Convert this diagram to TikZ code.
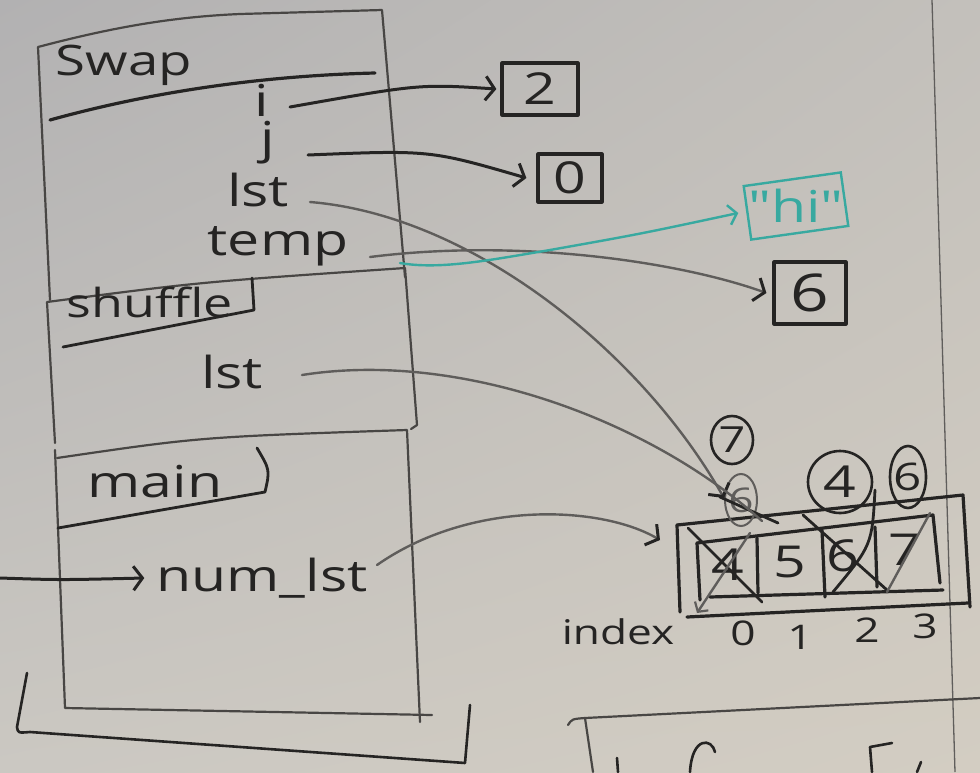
\documentclass[tikz,border=0pt]{standalone}
\usepackage{fontspec}
\setmainfont{Open Sans}
\newfontfamily\handfont[FakeStretch=1.3]{Open Sans}
\usetikzlibrary{arrows.meta,shadings}
\definecolor{boardA}{HTML}{B2B1B2}
\definecolor{boardB}{HTML}{C3C0BB}
\definecolor{boardC}{HTML}{CBC8C2}
\definecolor{boardD}{HTML}{D3CDC2}
\definecolor{ink}{HTML}{252423}
\definecolor{pencil}{HTML}{5F5D5B}
\definecolor{frameink}{HTML}{484644}
\definecolor{tealink}{HTML}{38A9A0}
\tikzset{
  hand/.style={font=\handfont\fontsize{44}{44}\selectfont, text=ink, inner sep=0pt},
  handsm/.style={font=\handfont\fontsize{34}{34}\selectfont, text=ink, inner sep=0pt},
  frame/.style={draw=frameink, line width=2.2pt, line cap=round, line join=round},
  inkline/.style={draw=ink, line width=3.2pt, line cap=round, line join=round},
  gline/.style={draw=pencil, line width=2.4pt, line cap=round},
  barb/.tip={Straight Barb[length=9pt,width=24pt,line width=3pt,color=ink]},
  conn/.style={draw=ink, line width=3pt, line cap=round, -barb},
  gconn/.style={draw=pencil, line width=2.4pt, line cap=round, -barb},
  tconn/.style={draw=tealink, line width=2.4pt, line cap=round,
    -{Straight Barb[length=8pt,width=20pt,line width=2.4pt]}},
  valbox/.style={hand, draw=ink, line width=3.2pt, line join=round},
  ring/.style={draw=ink, line width=2.6pt},
}
\begin{document}
\begin{tikzpicture}[x=1pt,y=-1pt]
\shade[upper left=boardA, upper right=boardB, lower left=boardC, lower right=boardD]
  (0,0) rectangle (980,772);
\useasboundingbox (0,0) rectangle (980,772);
% edge of the board
\draw[pencil, line width=1.3pt] (932,0) -- (955,772);

% ---------- swap frame ----------
\draw[frame] (50,300) -- (38,47) .. controls (110,28) and (170,17) .. (240,14) -- (382,10) -- (405,277);
\draw[inkline] (50,120) .. controls (140,95) and (250,76) .. (375,73);
\node[hand, font=\handfont\fontsize{42}{42}\selectfont] (swapT) at (124,65) {Swap};
\node[hand] (vi) at (262,100) {i};
\node[hand] (vj) at (268,143) {j};
\node[hand] (vlst) at (258,190) {lst};
\node[hand] (vtemp) at (278,246) {temp};

% ---------- shuffle frame ----------
\draw[frame] (55,443) -- (47,302) .. controls (200,282) .. (405,268) -- (417,425) -- (411,429);
\draw[inkline, line width=2.8pt] (63,347) -- (254,310) -- (252,278);
\node[hand, font=\handfont\fontsize{40}{40}\selectfont] (shufT) at (150,302) {shuffle};
\node[hand] (slst) at (232,372) {lst};

% ---------- main frame ----------
\draw[frame] (55,450) -- (65,708) -- (432,715);
\draw[frame] (57,458) .. controls (200,437) .. (407,430) -- (420,722);
\draw[inkline, line width=2.8pt] (257,448) .. controls (270,470) .. (265,492) -- (58,528);
\node[hand] (mainT) at (155,482) {main};
\node[hand] (numlst) at (262,578) {num\_lst};
\coordinate (inL) at (0,578);
\draw[conn] (inL) .. controls (60,580) .. ([xshift=-12pt]numlst.west);

% outer bracket
\draw[inkline, line width=2.6pt] (27,673) -- (17,727) .. controls (18,733) .. (30,732) -- (465,763) -- (470,705);

% ---------- value boxes ----------
\node[valbox, minimum width=76pt, minimum height=52pt] (v2) at (540,89) {2};
\node[valbox, minimum width=64pt, minimum height=48pt] (v0) at (570,178) {0};
\node[draw=tealink, line width=2.4pt, rotate=8, minimum width=98pt, minimum height=54pt] (vhibox) at (796,206) {};
\node[hand, text=tealink] (vhi) at (796,206) {"hi"};
\node[valbox, font=\handfont\fontsize{52}{52}\selectfont, minimum width=72pt, minimum height=62pt] (v6) at (810,293) {6};

% ---------- array ----------
\draw[inkline] (677,525) -- (963,495) -- (970,607);
\draw[inkline] (680,612) -- (677,525);
\draw[inkline] (687,617) -- (968,603);
\draw[inkline] (697,543) -- (933,515) -- (940,583);
\draw[inkline] (697,543) -- (700,600);
\draw[inkline] (710,597) -- (943,590);
\draw[inkline] (757,538) -- (758,593);
\draw[inkline] (822,530) -- (825,597);
\draw[inkline] (875,527) -- (877,587);
\node[hand] (c0) at (728,565) {4};
\node[hand] (c1) at (790,562) {5};
\node[hand] (c2) at (843,556) {6};
\node[hand] (c3) at (905,550) {7};

% circled new values
\node[hand, font=\handfont\fontsize{36}{36}\selectfont] (n7) at (732,440) {7};
\draw[ring] (n7) ellipse [x radius=21, y radius=24];
\node[hand, text=pencil, font=\handfont\fontsize{34}{34}\selectfont] (old6) at (741,500) {6};
\draw[draw=pencil, line width=2pt] (old6) ellipse [x radius=16, y radius=26];
\node[hand, font=\handfont\fontsize{44}{44}\selectfont] (n4) at (840,482) {4};
\draw[ring] (n4) ellipse [x radius=32, y radius=31];
\node[hand, font=\handfont\fontsize{38}{38}\selectfont] (n6) at (908,477) {6};
\draw[ring] (n6) ellipse [x radius=18, y radius=31];

% crossings
\draw[inkline, line width=2.8pt] (688,528) -- (762,602);
\draw[gline, -{Straight Barb[length=7pt,width=16pt,line width=2.2pt]}] (750,533) -- (697,613);
\draw[inkline, line width=2.8pt] (720,497) -- (778,523);
\draw[inkline, line width=2.8pt] (803,515) -- (887,590);
\draw[inkline, line width=2.8pt] (875,490) .. controls (872,545) .. (833,592);
\draw[gline] (930,513) -- (887,592);

% index row
\node[handsm] (idx) at (618,632) {index};
\node[handsm] (i0) at (743,633) {0};
\node[handsm] (i1) at (800,637) {1};
\node[handsm] (i2) at (867,630) {2};
\node[handsm] (i3) at (925,626) {3};

% ---------- pointers ----------
\coordinate (lsttip) at (724,498);
\coordinate (slstend) at (762,521);
\coordinate (arrin) at (660,540);
\coordinate (tealstart) at (400,263);
\draw[conn] ([shift={(28,7)}]vi.center) .. controls (420,84) .. ([xshift=-4pt]v2.west);
\draw[conn] ([shift={(40,12)}]vj.center) .. controls (430,150) .. ([xshift=-10pt]v0.west);
\draw[gconn] ([shift={(52,12)}]vlst.center) .. controls (470,215) and (640,350) .. (lsttip);
\draw[gconn] ([shift={(92,11)}]vtemp.center) .. controls (520,238) and (680,262) .. ([xshift=-6pt]v6.west);
\draw[tconn] (tealstart) .. controls (440,270) and (490,260) .. (550,250) .. controls (640,234) .. ([xshift=-8pt]vhibox.west);
\draw[gline] ([shift={(70,3)}]slst.center) .. controls (460,350) and (650,420) .. (slstend);
\draw[gconn] ([shift={(115,-13)}]numlst.center) .. controls (470,500) and (600,505) .. (arrin);

% ---------- bottom right frame (cut off) ----------
\draw[frame] (568,725) .. controls (572,719) .. (585,718) -- (980,698);
\draw[frame] (585,718) -- (593,772);
\draw[inkline, line width=2.6pt] (617,758) -- (618,772);
\draw[inkline, line width=2.6pt] (715,752) .. controls (712,738) and (692,736) .. (690,772);
\draw[inkline, line width=2.6pt] (892,743) -- (870,747) -- (872,772);
\draw[inkline, line width=2.6pt] (921,762) -- (917,772);
\end{tikzpicture}
\end{document}
